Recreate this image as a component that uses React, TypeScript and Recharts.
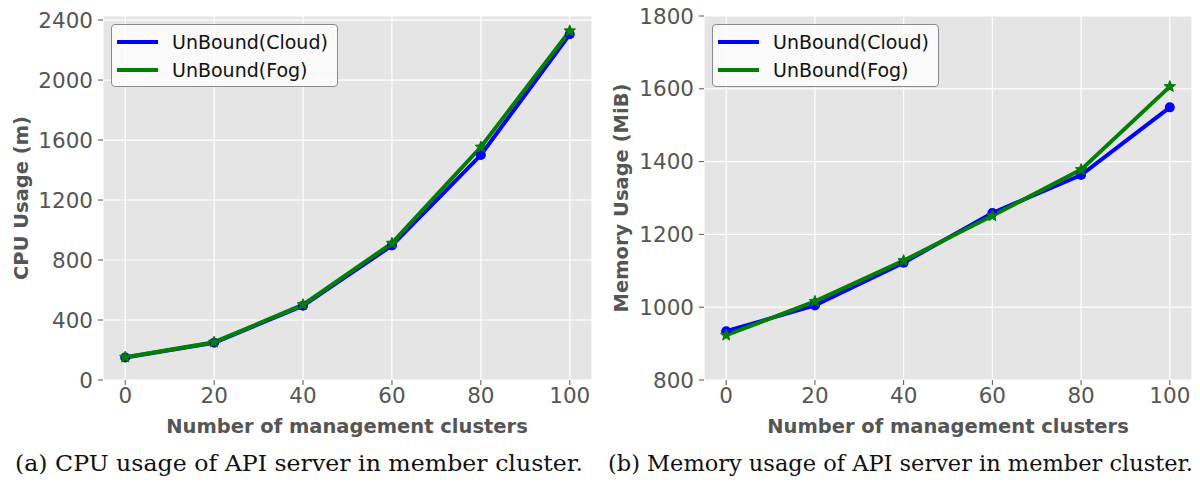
import React from "react";
import {
  LineChart,
  Line,
  XAxis,
  YAxis,
  CartesianGrid,
  Legend,
} from "recharts";

const clusters = [0, 20, 40, 60, 80, 100];
const cpuCloud = [150, 248, 495, 897, 1500, 2305];
const cpuFog = [152, 252, 502, 912, 1553, 2328];
const memCloud = [934, 1005, 1122, 1259, 1363, 1549];
const memFog = [923, 1016, 1128, 1251, 1378, 1606];

const xTicks = [0, 20, 40, 60, 80, 100];
const cpuTicks = [0, 400, 800, 1200, 1600, 2000, 2400];
const memTicks = [800, 1000, 1200, 1400, 1600, 1800];

const seriesNames = ["UnBound(Cloud)", "UnBound(Fog)"];
const seriesColors = ["#0000ff", "#008000"];

const tickStyle = { fontFamily: "DejaVu Sans", fontSize: 21.5, fill: "#555555" };

const starPath = (cx: number, cy: number, outer = 6, inner = 2.6) => {
  let d = "";
  for (let k = 0; k < 10; k++) {
    const r = k % 2 === 0 ? outer : inner;
    const a = ((-90 + k * 36) * Math.PI) / 180;
    d += (k === 0 ? "M" : "L") + (cx + r * Math.cos(a)).toFixed(2) + "," + (cy + r * Math.sin(a)).toFixed(2);
  }
  return d + "Z";
};

const StarDot = (props: any) => {
  const { cx, cy, index } = props;
  if (cx == null || cy == null) return <g key={"s" + index} />;
  return <path key={"s" + index} d={starPath(cx, cy)} fill="#008000" stroke="#008000" strokeWidth={1} />;
};

const LegendBox = () => (
  <div
    style={{
      width: 227,
      height: 63,
      boxSizing: "border-box",
      border: "1px solid #8a8a8a",
      borderRadius: 4,
      background: "rgba(255,255,255,0.8)",
      fontFamily: "DejaVu Sans",
      fontSize: 19,
      color: "#111",
      position: "relative",
    }}
  >
    {seriesNames.map((n, i) => (
      <div key={n} style={{ position: "absolute", left: 5, top: 4 + i * 28, height: 25, display: "flex", alignItems: "center" }}>
        <div style={{ width: 41, height: 4, background: seriesColors[i] }} />
        <span style={{ marginLeft: 14, whiteSpace: "nowrap" }}>{n}</span>
      </div>
    ))}
  </div>
);

const Panel = ({
  cloud,
  fog,
  yDomain,
  yTicks,
  yLabel,
  caption,
  yAxisWidth,
}: {
  cloud: number[];
  fog: number[];
  yDomain: [number, number];
  yTicks: number[];
  yLabel: string;
  caption: string;
  yAxisWidth: number;
}) => {
  const data = clusters.map((c, i) => ({ x: c, cloud: cloud[i], fog: fog[i] }));
  return (
    <div style={{ position: "relative", width: 600, height: 484 }}>
      <LineChart width={600} height={440} data={data} margin={{ top: 16, right: 8, left: 0, bottom: 0 }}>
        <CartesianGrid fill="#e5e5e5" stroke="#ffffff" strokeWidth={1.2} />
        <XAxis
          dataKey="x"
          type="number"
          domain={[-5, 105]}
          ticks={xTicks}
          height={60}
          axisLine={false}
          tickLine={{ stroke: "#555555" }}
          tickSize={5}
          tickMargin={3}
          tick={tickStyle}
          allowDataOverflow
        />
        <YAxis
          type="number"
          domain={yDomain}
          ticks={yTicks}
          width={yAxisWidth}
          axisLine={false}
          tickLine={{ stroke: "#555555" }}
          tickSize={5}
          tickMargin={5}
          tick={tickStyle}
          allowDataOverflow
        />
        <Legend
          layout="vertical"
          align="center"
          verticalAlign="middle"
          wrapperStyle={{ top: 24, left: yAxisWidth + 8, width: 227 }}
          content={() => <LegendBox />}
        />
        <Line
          dataKey="cloud"
          name={seriesNames[0]}
          stroke="#0000ff"
          strokeWidth={4}
          dot={{ r: 5, fill: "#0000ff", stroke: "#0000ff", strokeWidth: 0 }}
          isAnimationActive={false}
        />
        <Line
          dataKey="fog"
          name={seriesNames[1]}
          stroke="#008000"
          strokeWidth={4}
          dot={StarDot}
          isAnimationActive={false}
        />
      </LineChart>
      <div
        style={{
          position: "absolute",
          left: 21,
          top: 198,
          transform: "translate(-50%, -50%) rotate(-90deg)",
          fontFamily: "DejaVu Sans",
          fontWeight: "bold",
          fontSize: 19.5,
          color: "#555555",
          whiteSpace: "nowrap",
        }}
      >
        {yLabel}
      </div>
      <div
        style={{
          position: "absolute",
          left: yAxisWidth + 244,
          top: 426,
          transform: "translate(-50%, -50%)",
          fontFamily: "DejaVu Sans",
          fontWeight: "bold",
          fontSize: 19.5,
          color: "#555555",
          whiteSpace: "nowrap",
        }}
      >
        Number of management clusters
      </div>
      <svg style={{ position: "absolute", left: 0, top: 444 }} width={600} height={40}>
        <text
          x={caption.startsWith("(a)") ? 15 : 8}
          y={27}
          fontFamily="DejaVu Serif"
          fontSize={22}
          fill="#111"
          textLength={caption.startsWith("(a)") ? 568 : 585}
          lengthAdjust="spacingAndGlyphs"
        >
          {caption}
        </text>
      </svg>
    </div>
  );
};

export default function App() {
  return (
    <div style={{ position: "absolute", left: 0, top: 0, width: 1200, height: 484, background: "#fff", display: "flex" }}>
      <Panel
        cloud={cpuCloud}
        fog={cpuFog}
        yDomain={[0, 2427]}
        yTicks={cpuTicks}
        yLabel="CPU Usage (m)"
        caption="(a) CPU usage of API server in member cluster."
        yAxisWidth={103}
      />
      <Panel
        cloud={memCloud}
        fog={memFog}
        yDomain={[800, 1800]}
        yTicks={memTicks}
        yLabel="Memory Usage (MiB)"
        caption="(b) Memory usage of API server in member cluster."
        yAxisWidth={104}
      />
    </div>
  );
}
